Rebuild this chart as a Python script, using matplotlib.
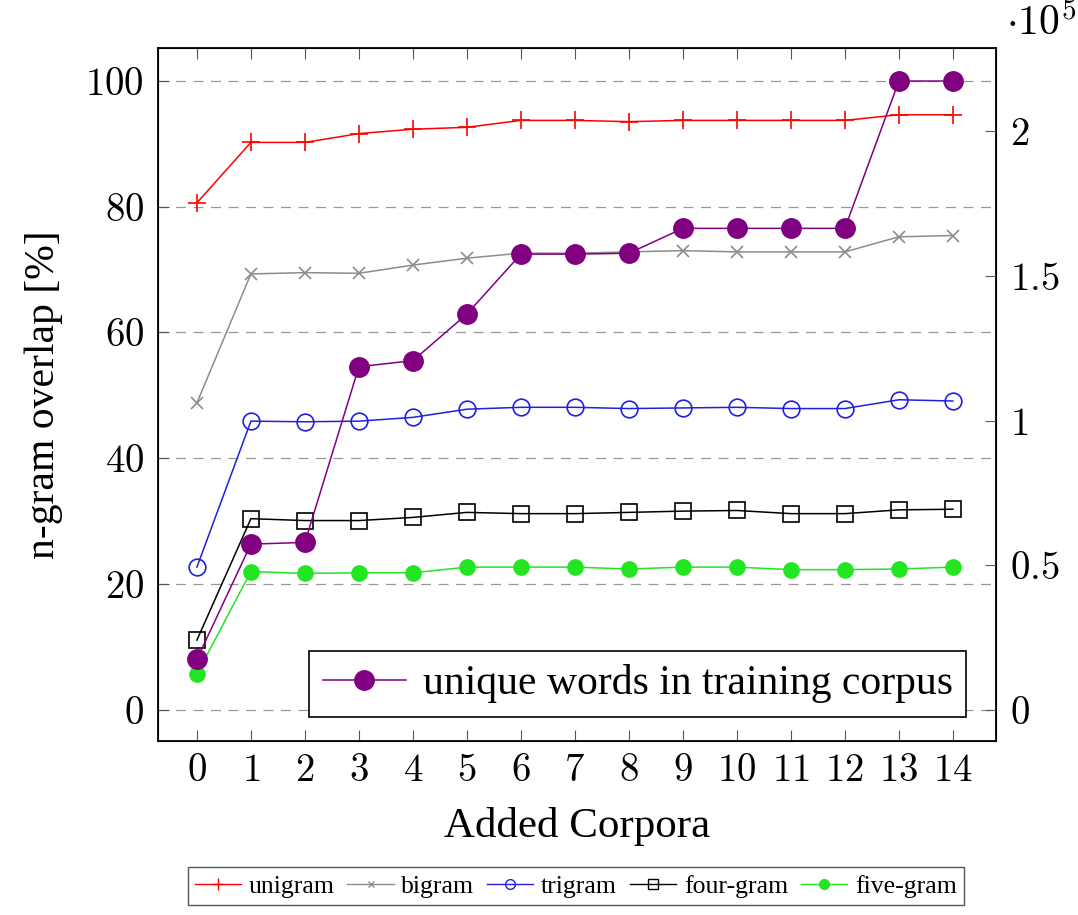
import matplotlib
matplotlib.use("Agg")
import matplotlib.pyplot as plt
from matplotlib.ticker import FuncFormatter
from matplotlib.lines import Line2D

plt.rcParams['mathtext.fontset'] = 'cm'
plt.rcParams['font.family'] = ['Liberation Serif', 'DejaVu Serif']

corpora = list(range(15))
unigram = [80.6, 90.2, 90.2, 91.6, 92.3, 92.6, 93.7, 93.7, 93.5, 93.7, 93.7, 93.7, 93.7, 94.6, 94.6]
bigram = [48.8, 69.3, 69.5, 69.4, 70.7, 71.8, 72.6, 72.6, 72.8, 73.0, 72.8, 72.8, 72.8, 75.2, 75.4]
trigram = [22.7, 45.9, 45.8, 45.9, 46.5, 47.8, 48.1, 48.1, 47.9, 48.0, 48.1, 47.9, 47.9, 49.3, 49.1]
fourgram = [11.1, 30.4, 30.1, 30.1, 30.6, 31.4, 31.2, 31.2, 31.4, 31.6, 31.7, 31.2, 31.2, 31.8, 31.9]
fivegram = [5.7, 22.0, 21.7, 21.8, 21.8, 22.7, 22.7, 22.7, 22.4, 22.7, 22.7, 22.3, 22.3, 22.4, 22.7]
unique_words = [17500, 57300, 57900, 118600, 120700, 136800, 157500, 157500, 157800,
                166400, 166400, 166400, 166400, 217300, 217300]

left_ticks = [0, 20, 40, 60, 80, 100]
right_ticks = [0, 50000, 100000, 150000, 200000]

fig = plt.figure(figsize=(10.78, 9.15), dpi=100)
ax = fig.add_axes([0.1466, 0.1902, 0.7774, 0.7573])

lw = 1.1
ax.plot(corpora, unigram, color='red', marker='+', markersize=13, mew=1.2, lw=lw, label='unigram')
ax.plot(corpora, bigram, color='#8c8c8c', marker='x', markersize=9, mew=1.2, lw=lw, label='bigram')
ax.plot(corpora, trigram, color='#2020e0', marker='o', markersize=12, mfc='none', mew=1.2, lw=lw, label='trigram')
ax.plot(corpora, fourgram, color='black', marker='s', markersize=11, mfc='none', mew=1.2, lw=lw, label='four-gram')
ax.plot(corpora, fivegram, color='#22e622', marker='o', markersize=11, lw=lw, label='five-gram')

ax.set_xlim(-0.72, 14.8)
ax.set_ylim(-4.93, 105.2)
ax.set_xticks(corpora)
ax.set_yticks(left_ticks)
ax.xaxis.set_major_formatter(FuncFormatter(lambda v, p: r'$%d$' % v))
ax.yaxis.set_major_formatter(FuncFormatter(lambda v, p: r'$%d$' % v))
ax.grid(axis='y', color='#999999', linestyle=(0, (8, 6)), lw=0.9)
ax.set_axisbelow(True)
ax.tick_params(axis='x', direction='in', top=True, bottom=True, length=8, width=0.8, labelsize=28, pad=9, color='#555555')
ax.tick_params(axis='y', direction='in', left=True, right=False, length=8, width=0.8, labelsize=28, pad=10, color='#555555')
for s in ax.spines.values():
    s.set_linewidth(1.3)
ax.set_xlabel('Added Corpora', fontsize=31, labelpad=12)
ax.set_ylabel('n-gram overlap [%]', fontsize=30, labelpad=16)

ax2 = ax.twinx()
ax2.plot(corpora, unique_words, color='#800080', marker='o', markersize=14, lw=lw,
         label='unique words in training corpus')
ax2.set_ylim(-10700, 228700)
ax2.set_yticks(right_ticks)
ax2.yaxis.set_major_formatter(FuncFormatter(lambda v, p: r'$%g$' % (v / 1e5)))
ax2.tick_params(axis='y', direction='in', right=True, length=8, width=0.8, labelsize=28, pad=10, color='#555555')
ax2.tick_params(axis='x', top=False)
fig.text(0.933, 0.952, r'$\cdot 10^5$', fontsize=30, ha='left', va='bottom')

h = Line2D([], [], color='#800080', marker='o', markersize=14, lw=lw)
leg_in = ax2.legend([h], ['unique words in training corpus'], loc='lower right',
                    bbox_to_anchor=(0.964, 0.035), borderaxespad=0, fontsize=30, frameon=True,
                    fancybox=False, edgecolor='black', framealpha=1, handlelength=2.0,
                    handletextpad=0.4, borderpad=0.32)
leg_in.get_frame().set_linewidth(1.2)

handles = [
    Line2D([], [], color='red', marker='+', markersize=9, mew=1, lw=1),
    Line2D([], [], color='#8c8c8c', marker='x', markersize=5, mew=1, lw=1),
    Line2D([], [], color='#2020e0', marker='o', markersize=7, mfc='none', mew=1, lw=1),
    Line2D([], [], color='black', marker='s', markersize=7, mfc='none', mew=1, lw=1),
    Line2D([], [], color='#22e622', marker='o', markersize=7, lw=1),
]
labels = ['unigram', 'bigram', 'trigram', 'four-gram', 'five-gram']
leg = fig.legend(handles, labels, loc='center', bbox_to_anchor=(0.534, 0.0315), ncol=5,
                 fontsize=18.5, frameon=True, fancybox=False, edgecolor='#555555', framealpha=1,
                 handlelength=1.8, handletextpad=0.3, columnspacing=0.5, borderpad=0.28)
leg.get_frame().set_linewidth(1.0)

fig.savefig('out.png', dpi=100)
